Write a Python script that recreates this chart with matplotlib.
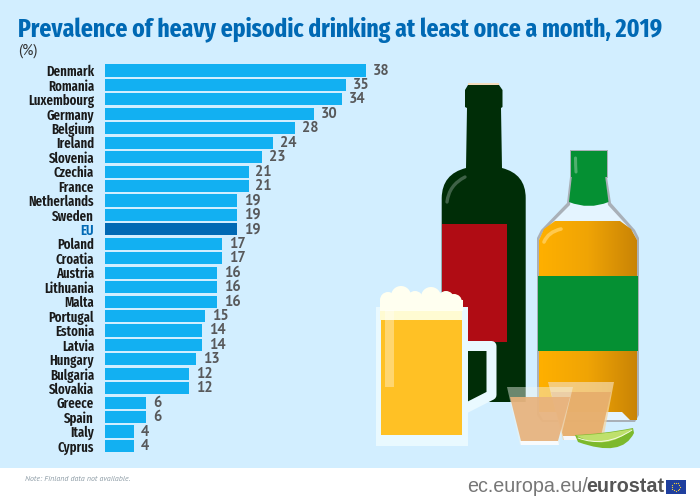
import numpy as np
from matplotlib import pyplot as plt
from matplotlib.patches import Polygon, Rectangle, Circle, PathPatch
from matplotlib.path import Path
from matplotlib.colors import LinearSegmentedColormap

W, H = 700, 504

countries = ['Denmark', 'Romania', 'Luxembourg', 'Germany', 'Belgium', 'Ireland',
             'Slovenia', 'Czechia', 'France', 'Netherlands', 'Sweden', 'EU',
             'Poland', 'Croatia', 'Austria', 'Lithuania', 'Malta', 'Portugal',
             'Estonia', 'Latvia', 'Hungary', 'Bulgaria', 'Slovakia', 'Greece',
             'Spain', 'Italy', 'Cyprus']
values = [38.0, 35.1, 34.4, 30.4, 27.6, 24.4, 22.8, 20.9, 20.9, 19.3, 19.3, 19.3,
          17.0, 17.0, 16.4, 16.4, 16.4, 14.6, 14.2, 14.2, 13.3, 12.3, 12.3, 6.0,
          6.0, 4.3, 4.3]

BG = '#D2EEFF'
BAR = '#12B0F2'
BLUE = '#0069B4'
GREY = '#58595B'
NARROW = ['Fira Sans Extra Condensed', 'PT Sans Narrow', 'Roboto Condensed', 'Liberation Sans']
PLAIN = ['PT Sans', 'Open Sans', 'Liberation Sans']

fig = plt.figure(figsize=(W/100, H/100), dpi=100, facecolor='white')

# whole figure axes in pixel coords, for background and the drawings
bg = fig.add_axes([0, 0, 1, 1], zorder=0)
bg.set_xlim(0, W)
bg.set_ylim(H, 0)
bg.axis('off')
bg.add_patch(Rectangle((0, 0), W, 468, color=BG, lw=0))


def poly(pts, color, z=2, alpha=1.0):
    p = Polygon(pts, closed=True, facecolor=color, edgecolor='none', alpha=alpha, zorder=z)
    bg.add_patch(p)
    return p


def shape(moves, color, z=2):
    # moves: list of (code, point), C is a curve control point
    codes = {'M': Path.MOVETO, 'L': Path.LINETO, 'C': Path.CURVE3}
    v = [m[1] for m in moves]
    c = [codes[m[0]] for m in moves]
    p = PathPatch(Path(v, c), facecolor=color, edgecolor='none', zorder=z)
    bg.add_patch(p)
    return p


def stroke(p0, ctrl, p1, color, lw, z):
    p = PathPatch(Path([p0, ctrl, p1], [Path.MOVETO, Path.CURVE3, Path.CURVE3]), facecolor='none',
                  edgecolor=color, lw=lw, capstyle='round', zorder=z)
    bg.add_patch(p)


def gradient(clip, x0, x1, y0, y1, colors, z=3):
    cmap = LinearSegmentedColormap.from_list('g', colors)
    im = bg.imshow(np.linspace(0, 1, 128).reshape(1, -1), cmap=cmap, aspect='auto',
                   extent=(x0, x1, y1, y0), zorder=z)
    im.set_clip_path(clip)
    bg.set_xlim(0, W)
    bg.set_ylim(H, 0)


# wine bottle
DARK = '#002D07'
bg.add_patch(Rectangle((468, 83), 31, 4, color='#F6DDBE', lw=0, zorder=2))
shape([('M', (466, 168)), ('L', (467, 108)), ('L', (465, 107)), ('L', (465, 90)), ('L', (468, 85)),
       ('L', (499, 85)), ('L', (502.5, 90)), ('L', (502.5, 107)), ('L', (501, 108)), ('L', (502, 168)),
       ('C', (525.7, 174)), ('C', (525.7, 198)), ('L', (525.7, 402)), ('L', (441.7, 402)),
       ('L', (441.7, 198)), ('C', (442, 174)), ('C', (466, 168))], DARK)
bg.add_patch(Rectangle((441.7, 224), 65.3, 118, color='#B00C14', lw=0, zorder=3))
stroke((447, 202), (449, 185), (465, 177), '#3F6247', 2.4, 3)

# whisky bottle, glass first then liquid, label, cap
poly([(570, 177), (567, 203), (541, 230), (537, 238), (537, 415), (542, 422), (635, 422),
      (639, 415), (639, 238), (635, 230), (611, 203), (607, 177)], '#A9B0B8')
poly([(573, 177), (570, 205), (543, 232), (539, 240), (539, 413), (543, 420), (634, 420),
      (637, 413), (637, 240), (633, 232), (608, 205), (605, 177)], '#E4F4FF')
liq = poly([(555, 221), (620, 221), (631, 229), (637, 240), (637, 420), (630, 420), (622, 412),
            (539, 412), (539, 240), (544, 229)], 'none', z=3)
gradient(liq, 539, 637, 221, 420, ['#FFB000', '#F0A405', '#C98406'])
bg.add_patch(Rectangle((538, 276), 100, 75, color='#059033', lw=0, zorder=4))
bg.add_patch(Rectangle((569.5, 149.5), 38, 28, color='#A9B0B8', lw=0, zorder=4))
bg.add_patch(Rectangle((570.5, 151), 36, 26, color='#059033', lw=0, zorder=5))
shape([('M', (572, 175)), ('L', (605, 175)), ('L', (608.5, 202)), ('C', (589, 210)), ('C', (569, 202))],
      '#059033', z=5)
stroke((575.5, 158), (575.5, 165), (576, 172), '#4FB06E', 2.2, 6)
stroke((544, 242), (548, 232), (561, 229), '#FFC94D', 2.6, 5)

# beer mug
GLASS = '#E9F9FF'
bg.plot([468, 491.5, 491.5, 468], [346, 346, 395, 407], color=GLASS, lw=7.2,
        solid_joinstyle='round', zorder=6)
bg.add_patch(Rectangle((376, 307), 92, 139, color=GLASS, lw=0, zorder=6))
bg.add_patch(Rectangle((381, 320), 81, 115, color='#FFC125', lw=0, zorder=7))
bg.add_patch(Rectangle((380, 307), 82, 13, color='#FFFBD2', lw=0, zorder=7))
for x, y, r in [(388, 300, 8), (401, 296, 10), (415, 299, 8), (431, 297, 10), (446, 299, 8), (454, 302, 8)]:
    bg.add_patch(Circle((x, y), r, color='#FFFFF0', lw=0, zorder=8))
bg.add_patch(Rectangle((380, 300), 82.5, 11, color='#FFFFF0', lw=0, zorder=8))
bg.add_patch(Rectangle((384.5, 310), 9.5, 77, color='white', alpha=0.35, lw=0, zorder=9))

# shot glasses
poly([(548, 382), (614, 382), (603, 440), (563, 440)], '#F4D6A4', z=7, alpha=0.75)
poly([(551, 392), (611, 392), (601, 436), (563, 436)], '#E7AE6C', z=7, alpha=0.95)
poly([(563, 436), (601, 436), (600, 440), (564, 440)], '#F6F8FA', z=7)
poly([(507, 387), (573, 387), (559, 445), (520, 445)], '#F2F5EE', z=8, alpha=0.45)
poly([(510, 397), (570, 397), (558, 441), (521, 441)], '#E8B27C', z=8, alpha=0.92)
poly([(520, 441), (558, 441), (559, 445), (521, 445)], '#F8FBFD', z=8)

# lime
shape([('M', (575, 435)), ('C', (603, 434)), ('C', (633, 428)), ('L', (634, 433)),
       ('C', (622, 458)), ('C', (578, 442))], '#7DB92C', z=9)
shape([('M', (576, 435.5)), ('C', (603, 434.5)), ('C', (632, 429)), ('C', (606, 452)), ('C', (576, 435.5))],
      '#BFE06C', z=9)
stroke((578, 438), (605, 448), (632, 430), '#F4FAE0', 0.7, 10)

# footer
bg.text(25, 479.5, 'Note: Finland data not available.', fontsize=5.7, style='italic',
        color='#8C9BA5', family=PLAIN, va='center', ha='left')
bg.text(467, 487, 'ec.europa.eu/', fontsize=14.2, color='#767676', family='Liberation Sans',
        va='center', ha='left')
bg.text(586, 487, 'eurostat', fontsize=14.2, color='#555555', family='Liberation Sans',
        weight='bold', va='center', ha='left')
bg.add_patch(Rectangle((666, 480), 19.5, 13.5, color='#1F3F9E', lw=0))
ang = np.arange(12) * np.pi / 6
bg.scatter(675.7 + 4.2*np.cos(ang), 486.7 + 4.2*np.sin(ang), s=0.8, color='#F5D33A', lw=0)

# title, size fitted to its width in the reference since the font may differ
title = bg.text(18, 30, 'Prevalence of heavy episodic drinking at least once a month, 2019',
                fontsize=24, weight='bold', color=BLUE, family=NARROW, va='center', ha='left')
tw = title.get_window_extent(fig.canvas.get_renderer()).width
title.set_fontsize(24 * 647 / tw)
bg.text(18, 50.5, '(%)', fontsize=10.5, color='#333333', family=PLAIN, va='center', ha='left')

# bar chart
left, right = 104.5, 380.0
top, bottom = 63.3, 453.2
ax = fig.add_axes([left/W, 1 - bottom/H, (right-left)/W, (bottom-top)/H], zorder=1)
ax.patch.set_alpha(0)
y = np.arange(len(countries))
colors = [BLUE if c == 'EU' else BAR for c in countries]
ax.barh(y, values, height=0.84, color=colors, lw=0)
ax.set_xlim(0, (right-left)/6.89)
ax.set_ylim(len(countries)-0.5, -0.5)
ax.set_yticks(y)
ax.set_yticklabels(countries, fontsize=10, weight=600, family=NARROW, color='#1A1A1A')
ax.tick_params(axis='y', length=0, pad=7.5)
ax.set_xticks([])
for s in ax.spines.values():
    s.set_visible(False)
for lab in ax.get_yticklabels():
    lab.set_verticalalignment('center_baseline')
    if lab.get_text() == 'EU':
        lab.set_color(BLUE)
for yi, val in zip(y, values):
    ax.annotate(f'{val:.0f}', (val, yi), xytext=(5, 0), textcoords='offset points',
                fontsize=10.5, weight='bold', color=GREY, family=PLAIN, va='center', ha='left')

fig.savefig('out.png', dpi=100)
